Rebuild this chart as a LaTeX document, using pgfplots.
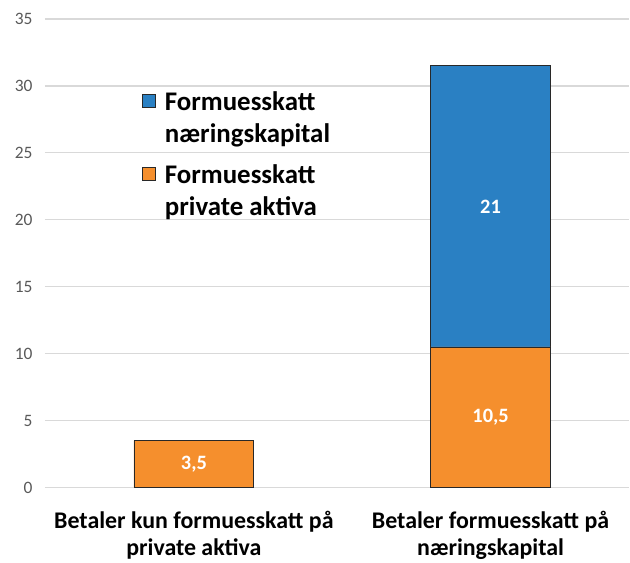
\documentclass[border=0pt]{standalone}
\usepackage{pgfplots}
\pgfplotsset{compat=1.18}
\usepackage{fontspec}
\setmainfont{Carlito}
\definecolor{barblue}{RGB}{42,128,195}
\definecolor{barorange}{RGB}{245,143,45}
\definecolor{gridgray}{RGB}{217,217,217}
\definecolor{ticktext}{RGB}{89,89,89}
\definecolor{baredge}{RGB}{40,40,40}
\begin{document}
\begin{tikzpicture}
\begin{axis}[
  scale only axis, width=585bp, height=469bp,
  ybar stacked, bar width=120bp,
  xmin=-0.502, xmax=1.468, ymin=0, ymax=35,
  ytick={0,5,...,35},
  xtick={0,1},
  xticklabels={Betaler kun formuesskatt på\\private aktiva, Betaler formuesskatt på\\næringskapital},
  xticklabel style={align=center, font=\bfseries\fontsize{24}{27}\selectfont, text=black, yshift=-20bp},
  major tick length=0pt,
  axis line style={draw=none},
  ymajorgrids, grid style={gridgray, line width=1.2bp},
  yticklabel style={font=\fontsize{17.5}{20}\selectfont, text=ticktext, xshift=-9bp},
  /pgf/number format/assume math mode=true,
  legend style={at={(0.165,0.85)}, anchor=north west, draw=none, fill=none,
    font=\bfseries\fontsize{27}{32}\selectfont,
    cells={anchor=west, align=left}, row sep=17bp, inner sep=0pt},
  legend cell align=left,
  reverse legend,
  legend image code/.code={\draw[#1, draw=baredge, line width=0.8bp] (0bp,10bp) rectangle (13bp,23bp); \path[draw=none, fill=none] (0bp,10bp) -- (21bp,10bp);},
  clip=false,
]
\addplot[fill=barorange, draw=baredge, line width=0.8bp] coordinates {(0,3.5) (1,10.5)};
\addlegendentry{Formuesskatt\\private aktiva}
\addplot[fill=barblue, draw=baredge, line width=0.8bp] coordinates {(0,0) (1,21)};
\addlegendentry{Formuesskatt\\næringskapital}
\coordinate (la) at (axis cs:0,1.75);
\coordinate (lb) at (axis cs:1,5.25);
\coordinate (lc) at (axis cs:1,21);
\end{axis}
\node[text=white, font=\bfseries\fontsize{20.5}{24}\selectfont] at (la) {3,5};
\node[text=white, font=\bfseries\fontsize{20.5}{24}\selectfont] at (lb) {10,5};
\node[text=white, font=\bfseries\fontsize{20.5}{24}\selectfont] at (lc) {21};
\useasboundingbox (-45bp,-72bp) rectangle (585bp,488bp);
\end{tikzpicture}
\end{document}
